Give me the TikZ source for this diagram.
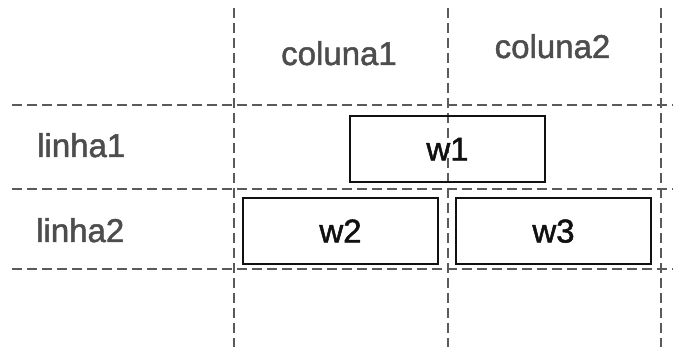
\documentclass[tikz,border=0pt]{standalone}
\usepackage{fontspec}
\setmainfont{Liberation Sans}
\newfontfamily\labfont[FakeBold=1.5]{Liberation Sans}
\definecolor{gridgray}{HTML}{5A5A5A}
\definecolor{labgray}{HTML}{4D4D4D}
\definecolor{boxblack}{HTML}{111111}
\tikzset{
  gridline/.style={draw=gridgray, line width=1.5pt, dash pattern=on 10pt off 5pt},
  headlabel/.style={inner sep=0pt, text=labgray, font=\labfont\fontsize{33}{38}\selectfont},
  cellbox/.style={draw=boxblack, line width=2pt, minimum width=195pt, minimum height=66pt,
    inner sep=0pt, text=boxblack, text height=23pt, text depth=0pt, font=\labfont\fontsize{33}{38}\selectfont}
}
\begin{document}
\begin{tikzpicture}[x=1pt,y=-1pt]
\useasboundingbox (0,0) rectangle (673,347);
\fill[white] (0,0) rectangle (673,347);
% grid
\foreach \yy in {105,189,269}{\draw[gridline] (12,\yy) -- (673,\yy);}
\foreach \xx in {234,448,661}{\draw[gridline] (\xx,8) -- (\xx,347);}
% headers
\node[headlabel, anchor=base] (c1) at (339,65) {coluna1};
\node[headlabel, anchor=base] (c2) at (552.5,58) {coluna2};
\node[headlabel, anchor=base west] (l1) at (37,157) {linha1};
\node[headlabel, anchor=base west] (l2) at (36,242) {linha2};
% boxes
\node[cellbox] (w1) at (447.5,149) {w1};
\node[cellbox] (w2) at (340.5,231) {w2};
\node[cellbox] (w3) at (553.5,231) {w3};
\end{tikzpicture}
\end{document}
